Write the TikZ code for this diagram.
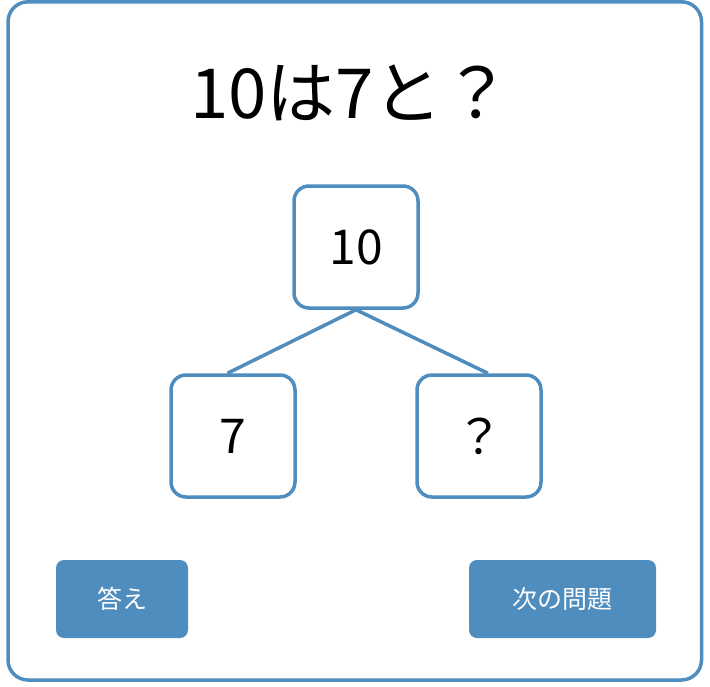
\documentclass[tikz,border=0pt]{standalone}
\usepackage{fontspec}
\setmainfont{Noto Sans CJK JP}
\usetikzlibrary{positioning}

\definecolor{frameblue}{RGB}{79,141,190}

\tikzset{
  number box/.style={draw=frameblue, line width=3.5pt, rounded corners=15pt,
    minimum width=124pt, minimum height=122pt, inner sep=0pt,
    font=\fontsize{48}{52}\selectfont},
  button/.style={fill=frameblue, rounded corners=8pt, inner sep=0pt,
    minimum height=78pt, text=white},
}

\begin{document}
\begin{tikzpicture}[x=1pt, y=-1pt]

\useasboundingbox (0,0) rectangle (710,686);

% outer frame
\draw [frameblue, line width=3.5pt, rounded corners=20pt] (8,1.8) rectangle (701.5,680);

% question
\node [font=\fontsize{69}{72}\selectfont] (question) at (351,93) {10は7と？};

% whole
\node [number box] (whole) at (356,247) {10};

% parts
\foreach \m/\x [count=\i] in {7/233,？/479}
  \node [number box] (part-\i) at (\x,436) {\m};

% lines from whole to parts
\foreach \i/\a in {1/95,2/82}
  \draw [frameblue, line width=3.5pt] (whole.south) -- (part-\i.\a);

% buttons
\node [button, minimum width=132pt, font=\fontsize{25}{28}\selectfont] (answer) at (122,599) {答え};
\node [button, minimum width=187pt, font=\fontsize{25}{28}\selectfont] (next) at (562.5,599) {次の問題};

\end{tikzpicture}
\end{document}
